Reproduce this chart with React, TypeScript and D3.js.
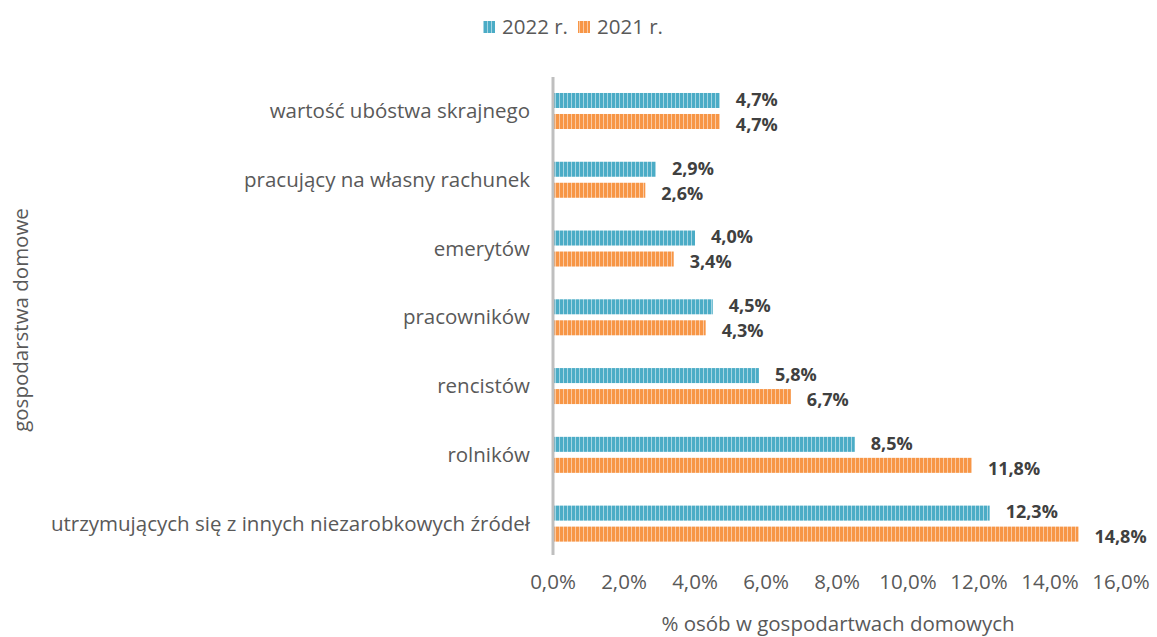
import React, { useEffect, useRef } from 'react';
import * as d3 from 'd3';

const categories = [
  'wartość ubóstwa skrajnego',
  'pracujący na własny rachunek',
  'emerytów',
  'pracowników',
  'rencistów',
  'rolników',
  'utrzymujących się z innych niezarobkowych źródeł',
];
const values2022 = [4.7, 2.9, 4.0, 4.5, 5.8, 8.5, 12.3];
const values2021 = [4.7, 2.6, 3.4, 4.3, 6.7, 11.8, 14.8];
const seriesNames = ['2022 r.', '2021 r.'];
const xTicks = [0, 2, 4, 6, 8, 10, 12, 14, 16];

const colors = ['#4BACC6', '#F79646'];
const lightColors = ['#A5D5E3', '#FBC9A2'];

const fmt = (v: number) => v.toFixed(1).replace('.', ',') + '%';

const App = () => {
  const ref = useRef<SVGSVGElement>(null);

  useEffect(() => {
    const svg = d3.select(ref.current);
    svg.selectAll('*').remove();

    const font = '"Open Sans", sans-serif';
    const fs = 20.5;

    // stripe patterns
    const defs = svg.append('defs');
    colors.forEach((c, i) => {
      const p = defs.append('pattern')
        .attr('id', 'stripe' + i)
        .attr('patternUnits', 'userSpaceOnUse')
        .attr('width', 4)
        .attr('height', 4);
      p.append('rect').attr('width', 4).attr('height', 4).attr('fill', c);
      p.append('rect').attr('x', 3).attr('width', 1).attr('height', 4).attr('fill', lightColors[i]);
    });

    const x = d3.scaleLinear().domain([0, 16]).range([553, 1121]);
    const y = d3.scaleBand().domain(categories).range([76.6, 558]);
    const barH = 15;
    const gap = 6;

    const rows = svg.append('g');
    categories.forEach((cat, i) => {
      const cy = y(cat)! + y.bandwidth() / 2;
      const vals = [values2022[i], values2021[i]];
      vals.forEach((v, s) => {
        const top = s === 0 ? cy - gap / 2 - barH : cy + gap / 2;
        rows.append('rect')
          .attr('x', x(0))
          .attr('y', top)
          .attr('width', x(v) - x(0))
          .attr('height', barH)
          .attr('fill', `url(#stripe${s})`);
        rows.append('text')
          .attr('x', x(v) + 16)
          .attr('y', top + barH / 2 + (s === 0 ? -1 : 3))
          .attr('dy', '0.35em')
          .attr('font-family', font)
          .attr('font-weight', 'bold')
          .attr('font-size', 18)
          .attr('fill', '#404040')
          .text(fmt(v));
      });
      rows.append('text')
        .attr('x', 530)
        .attr('y', cy)
        .attr('dy', '0.35em')
        .attr('text-anchor', 'end')
        .attr('font-family', font)
        .attr('font-size', fs)
        .attr('fill', '#595959')
        .text(cat);
    });

    // axis line
    svg.append('line')
      .attr('x1', x(0)).attr('x2', x(0))
      .attr('y1', 77).attr('y2', 555)
      .attr('stroke', '#BFBFBF')
      .attr('stroke-width', 3);

    svg.append('g')
      .selectAll('text')
      .data(xTicks)
      .join('text')
      .attr('x', d => x(d))
      .attr('y', 589)
      .attr('text-anchor', 'middle')
      .attr('font-family', font)
      .attr('font-size', fs)
      .attr('fill', '#595959')
      .text(d => fmt(d));

    svg.append('text')
      .attr('x', 838)
      .attr('y', 631)
      .attr('text-anchor', 'middle')
      .attr('font-family', font)
      .attr('font-size', fs)
      .attr('fill', '#595959')
      .text('% osób w gospodartwach domowych');

    svg.append('text')
      .attr('transform', 'translate(28,320) rotate(-90)')
      .attr('text-anchor', 'middle')
      .attr('font-family', font)
      .attr('font-size', fs)
      .attr('fill', '#595959')
      .text('gospodarstwa domowe');

    // legend
    const legendX = [483, 578];
    seriesNames.forEach((name, s) => {
      svg.append('rect')
        .attr('x', legendX[s]).attr('y', 21)
        .attr('width', 12).attr('height', 12)
        .attr('fill', `url(#stripe${s})`);
      svg.append('text')
        .attr('x', legendX[s] + 19)
        .attr('y', 27)
        .attr('dy', '0.35em')
        .attr('font-family', font)
        .attr('font-size', fs)
        .attr('fill', '#595959')
        .text(name);
    });
  }, []);

  return (
    <svg ref={ref} width={1157} height={637}
      style={{ position: 'absolute', left: 0, top: 0, background: '#fff' }} />
  );
};

export default App;
